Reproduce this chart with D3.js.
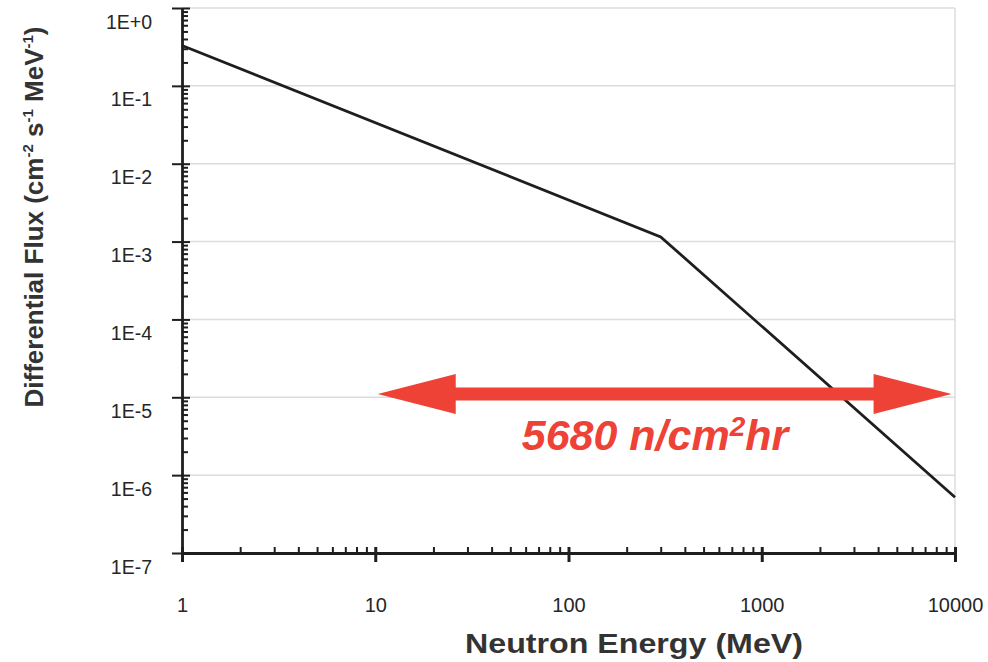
<!DOCTYPE html>
<html>
<head>
<meta charset="utf-8">
<script src="https://cdn.jsdelivr.net/npm/d3@7"></script>
<style>
  body { margin: 0; background: #fff; }
  svg { display: block; }
</style>
</head>
<body>
<div id="wrapper"></div>
<script>
// Data
const energy = [1, 300, 10000]            // MeV
const flux = [0.33, 1.15e-3, 5.2e-7]      // cm-2 s-1 MeV-1
const xTicks = [1, 10, 100, 1000, 10000]
const yTicks = [1e-7, 1e-6, 1e-5, 1e-4, 1e-3, 1e-2, 1e-1, 1]
const yTickLabels = ["1E-7", "1E-6", "1E-5", "1E-4", "1E-3", "1E-2", "1E-1", "1E+0"]
const arrowRange = [10.3, 9600]           // energy span of the annotation arrow
const arrowLevel = 1.1e-5
const arrowLabel = ["5680 n/cm", "2", "hr"]

function drawChart() {
  const dimensions = {
    width: 988,
    height: 662,
    margin: { top: 8, right: 33, bottom: 109, left: 182 },
  }
  dimensions.boundedWidth =
    dimensions.width - dimensions.margin.left - dimensions.margin.right
  dimensions.boundedHeight =
    dimensions.height - dimensions.margin.top - dimensions.margin.bottom

  const wrapper = d3
    .select("#wrapper")
    .append("svg")
    .attr("width", dimensions.width)
    .attr("height", dimensions.height)
    .style("font-family", "'Liberation Sans', Arial, sans-serif")

  const bounds = wrapper
    .append("g")
    .attr("transform", `translate(${dimensions.margin.left},${dimensions.margin.top})`)

  // scales
  const xScale = d3.scaleLog().domain([1, 10000]).range([0, dimensions.boundedWidth])
  const yScale = d3.scaleLog().domain([1e-7, 1]).range([dimensions.boundedHeight, 0])

  const minorOf = (majors) =>
    majors.slice(0, -1).flatMap((m) => d3.range(2, 10).map((k) => m * k))

  // grid
  bounds
    .append("g")
    .selectAll("line")
    .data(yTicks.slice(1))
    .join("line")
    .attr("x1", 0)
    .attr("x2", dimensions.boundedWidth)
    .attr("y1", (d) => yScale(d))
    .attr("y2", (d) => yScale(d))
    .attr("stroke", "#dcdcdc")
    .attr("stroke-width", 1.5)

  bounds
    .append("line")
    .attr("x1", dimensions.boundedWidth)
    .attr("x2", dimensions.boundedWidth)
    .attr("y1", 0)
    .attr("y2", dimensions.boundedHeight)
    .attr("stroke", "#dcdcdc")
    .attr("stroke-width", 1.5)

  // data line
  const points = energy.map((e, i) => [e, flux[i]])
  bounds
    .append("path")
    .datum(points)
    .attr("d", d3.line().x((d) => xScale(d[0])).y((d) => yScale(d[1])))
    .attr("fill", "none")
    .attr("stroke", "#1e1e1e")
    .attr("stroke-width", 2.8)

  // axes
  const axisColor = "#1e1e1e"
  const styleAxis = (g) => {
    g.select(".domain").attr("stroke", axisColor).attr("stroke-width", 2.8)
    g.selectAll(".tick line").attr("stroke", axisColor).attr("stroke-width", 2)
  }

  // y axis
  bounds
    .append("g")
    .call(d3.axisRight(yScale).tickValues(minorOf(yTicks)).tickSize(6).tickFormat(""))
    .call(styleAxis)
    .call((g) => g.select(".domain").remove())
  bounds
    .append("g")
    .call(d3.axisRight(yScale).tickValues(yTicks).tickSize(8).tickFormat(""))
    .call(styleAxis)
    .call((g) => g.select(".domain").remove())
  bounds
    .append("g")
    .call(
      d3
        .axisLeft(yScale)
        .tickValues(yTicks)
        .tickSize(10)
        .tickSizeOuter(0)
        .tickFormat((d, i) => yTickLabels[i])
    )
    .call(styleAxis)
    .call((g) =>
      g
        .selectAll(".tick text")
        .attr("x", -30)
        .attr("dy", "0")
        .attr("y", 20)
        .attr("fill", "#262626")
        .style("font-size", "19.5px")
    )

  // x axis
  const xAxisG = bounds
    .append("g")
    .attr("transform", `translate(0,${dimensions.boundedHeight})`)
  xAxisG
    .append("g")
    .call(d3.axisTop(xScale).tickValues(minorOf(xTicks)).tickSize(6).tickFormat(""))
    .call(styleAxis)
    .call((g) => g.select(".domain").remove())
  xAxisG
    .append("g")
    .call(d3.axisTop(xScale).tickValues(xTicks).tickSize(6).tickFormat(""))
    .call(styleAxis)
    .call((g) => g.select(".domain").remove())
  xAxisG
    .append("g")
    .call(
      d3
        .axisBottom(xScale)
        .tickValues(xTicks)
        .tickSize(9)
        .tickSizeOuter(0)
        .tickFormat(d3.format("d"))
    )
    .call(styleAxis)
    .call((g) =>
      g
        .selectAll(".tick text")
        .attr("y", 59)
        .attr("dy", "0")
        .attr("fill", "#262626")
        .style("font-size", "20px")
    )
  xAxisG.selectAll(".tick line").attr("stroke-width", (d) => (xTicks.includes(d) ? 3 : 2))

  // axis titles
  wrapper
    .append("text")
    .attr("x", 634)
    .attr("y", 653)
    .attr("text-anchor", "middle")
    .attr("fill", "#333")
    .style("font-size", "27px")
    .style("font-weight", "bold")
    .attr("textLength", 338)
    .attr("lengthAdjust", "spacingAndGlyphs")
    .text("Neutron Energy (MeV)")

  const yTitle = wrapper
    .append("text")
    .attr("transform", "translate(43,217) rotate(-90)")
    .attr("text-anchor", "middle")
    .attr("fill", "#333")
    .style("font-size", "26px")
    .style("font-weight", "bold")
  const yTitleParts = [
    ["Differential Flux (cm", false],
    ["-2", true],
    [" s", false],
    ["-1", true],
    [" MeV", false],
    ["-1", true],
    [")", false],
  ]
  yTitleParts.forEach(([t, sup], i) => {
    const prevSup = i > 0 && yTitleParts[i - 1][1]
    yTitle
      .append("tspan")
      .attr("dy", sup ? -10 : prevSup ? 10 : 0)
      .style("font-size", sup ? "15px" : null)
      .text(t)
  })

  // annotation arrow
  const ax0 = xScale(arrowRange[0])
  const ax1 = xScale(arrowRange[1])
  const ay = yScale(arrowLevel)
  const head = 78
  const headHalf = 20
  const shaftHalf = 6.5
  const arrowPath = d3.path()
  arrowPath.moveTo(ax0, ay)
  arrowPath.lineTo(ax0 + head, ay - headHalf)
  arrowPath.lineTo(ax0 + head, ay - shaftHalf)
  arrowPath.lineTo(ax1 - head, ay - shaftHalf)
  arrowPath.lineTo(ax1 - head, ay - headHalf)
  arrowPath.lineTo(ax1, ay)
  arrowPath.lineTo(ax1 - head, ay + headHalf)
  arrowPath.lineTo(ax1 - head, ay + shaftHalf)
  arrowPath.lineTo(ax0 + head, ay + shaftHalf)
  arrowPath.lineTo(ax0 + head, ay + headHalf)
  arrowPath.closePath()
  bounds.append("path").attr("d", arrowPath.toString()).attr("fill", "#ee4236")

  const label = bounds
    .append("text")
    .attr("x", 655 - dimensions.margin.left)
    .attr("y", ay + 56)
    .attr("text-anchor", "middle")
    .attr("fill", "#ee4236")
    .style("font-size", "43px")
    .style("font-weight", "bold")
    .style("font-style", "italic")
  label.append("tspan").text(arrowLabel[0])
  label.append("tspan").attr("dy", -14).style("font-size", "28px").text(arrowLabel[1])
  label.append("tspan").attr("dy", 14).text(arrowLabel[2])
}
drawChart()
</script>
</body>
</html>
